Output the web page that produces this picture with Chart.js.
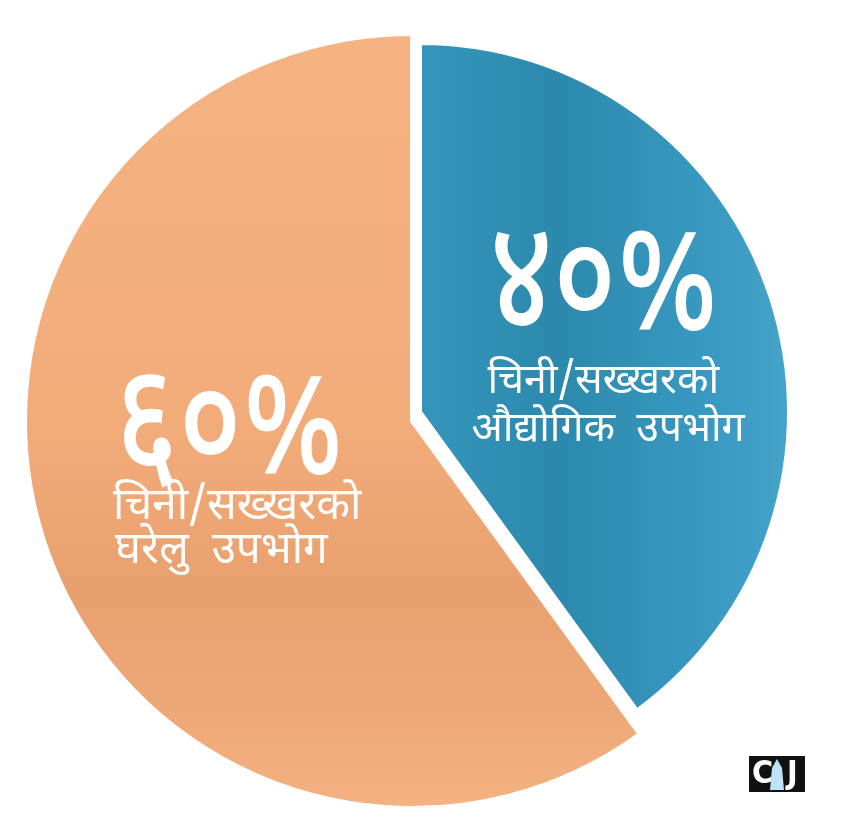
<!DOCTYPE html>
<html>
<head>
<meta charset="utf-8">
<script src="https://cdn.jsdelivr.net/npm/chart.js@4.4.1/dist/chart.umd.min.js"></script>
<style>
  html, body { margin: 0; padding: 0; background: #fff; }
  #wrap { width: 859px; height: 825px; }
</style>
</head>
<body>
<div id="wrap"><canvas id="sugarChart" width="859" height="825"></canvas></div>
<script>
// data
const labels = ['औद्योगिक उपभोग', 'घरेलु उपभोग'];
const shares = [40, 60];
const captions = [
  ['चिनी/सख्खरको', 'औद्योगिक  उपभोग'],
  ['चिनी/सख्खरको', 'घरेलु  उपभोग']
];
const sliceColors = ['#3597bf', '#f3ae7d'];

const devDigits = '०१२३४५६७८९';
const toNepali = n => String(n).replace(/[0-9]/g, d => devDigits[+d]);

const FONT = "'Noto Sans Devanagari', 'Noto Sans', Lato, sans-serif";

function fillFor(ctx) {
  const { chart, dataIndex } = ctx;
  const area = chart.chartArea;
  if (!area) return sliceColors[dataIndex];
  const c = chart.ctx;
  if (dataIndex === 0) {
    const g = c.createLinearGradient(420, 0, 815, 0);
    g.addColorStop(0, '#3595bb');
    g.addColorStop(0.35, '#2c89ad');
    g.addColorStop(0.75, '#3a9ac2');
    g.addColorStop(1, '#4aa6cc');
    return g;
  }
  const g = c.createLinearGradient(0, 30, 0, 810);
  g.addColorStop(0, '#f5b383');
  g.addColorStop(0.5, '#f2ac7a');
  g.addColorStop(0.72, '#e9a06f');
  g.addColorStop(0.9, '#efaa79');
  g.addColorStop(1, '#f4b282');
  return g;
}

// the blue slice sits pulled out, up and to the right, and is a bit smaller
const pullOut = {
  id: 'pullOut',
  beforeDatasetsDraw(chart) {
    const arcs = chart.getDatasetMeta(0).data;
    const base = arcs[1];
    arcs[0].x = base.x + 8;
    arcs[0].y = base.y - 9;
    arcs[0].outerRadius = base.outerRadius - 18;
  }
};

const sliceText = {
  id: 'sliceText',
  afterDatasetsDraw(chart) {
    const ctx = chart.ctx;
    const arcs = chart.getDatasetMeta(0).data;
    // [dx, dy of number baseline, caption size, line1 dy, line2 dy]
    const place = [
      [-106, -26, 41, 64, 112],
      [-113, -8, 44, 46, 90]
    ];
    arcs.forEach((arc, i) => {
      const p = arc.tooltipPosition();
      const [dx, dy, size, l1, l2] = place[i];
      const x = p.x + dx;
      const y = p.y + dy;
      ctx.save();
      ctx.fillStyle = '#ffffff';
      ctx.textAlign = 'left';
      ctx.textBaseline = 'alphabetic';
      ctx.font = '500 122px ' + FONT;
      ctx.save();
      ctx.translate(x, y);
      ctx.scale(0.98, 1.28);
      ctx.fillText(toNepali(shares[i]) + '%', 0, 0);
      ctx.restore();
      ctx.font = size + 'px ' + FONT;
      ctx.fillText(captions[i][0], x - 2, y + l1);
      ctx.fillText(captions[i][1], x - (i === 0 ? 18 : 0), y + l2);
      ctx.restore();
    });

    // small logo, bottom right
    ctx.save();
    ctx.fillStyle = '#111';
    ctx.fillRect(749, 756, 56, 36);
    ctx.fillStyle = '#fff';
    ctx.font = 'bold 32px "Liberation Sans Narrow", "DejaVu Sans Condensed", sans-serif';
    ctx.textBaseline = 'middle';
    ctx.textAlign = 'left';
    ctx.fillText('C', 752, 775);
    ctx.fillText('J', 787, 775);
    ctx.fillStyle = '#bfe3f5';
    ctx.beginPath();
    ctx.moveTo(777, 759);
    ctx.lineTo(782, 768);
    ctx.lineTo(784, 790);
    ctx.lineTo(770, 790);
    ctx.lineTo(772, 768);
    ctx.closePath();
    ctx.fill();
    ctx.restore();
  }
};

new Chart(document.getElementById('sugarChart'), {
  type: 'pie',
  plugins: [pullOut, sliceText],
  data: {
    labels: labels,
    datasets: [{
      data: shares,
      backgroundColor: fillFor,
      borderColor: '#ffffff',
      borderWidth: 4,
      hoverOffset: 0
    }]
  },
  options: {
    responsive: false,
    animation: false,
    rotation: 0,
    layout: { padding: { left: 23, right: 58, top: 32, bottom: 15 } },
    plugins: {
      legend: { display: false },
      tooltip: { enabled: false }
    }
  }
});
</script>
</body>
</html>
